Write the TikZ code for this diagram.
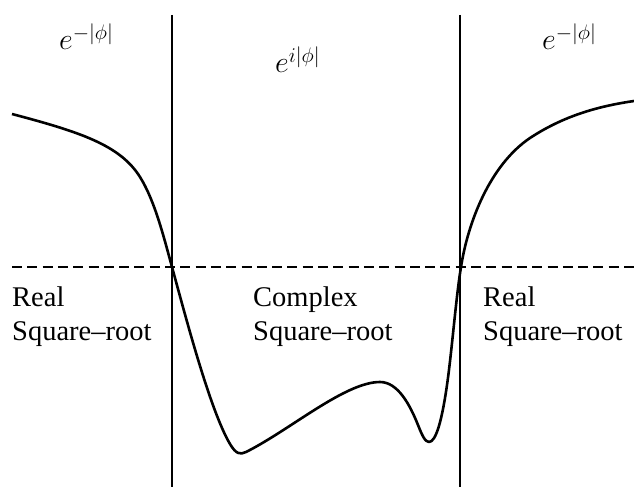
\RequirePackage{fix-cm}
\documentclass[tikz,border=0pt]{standalone}
\usepackage{fontspec}
\setmainfont{Liberation Serif}
\begin{document}
\begin{tikzpicture}[x=1pt,y=-1pt,
  region/.style={line width=2pt},
  axisline/.style={line width=2pt,dash pattern=on 10pt off 5.3pt},
  wave/.style={line width=2.6pt,line join=round},
  lbl/.style={anchor=base west,inner sep=0pt,align=left,font=\fontsize{28.5}{34}\selectfont},
  mlbl/.style={anchor=base west,inner sep=0pt,font=\fontsize{30}{34}\selectfont}]
\useasboundingbox (0,0) rectangle (634,487);
\coordinate (t1) at (172,15);
\coordinate (b1) at (172,487);
\coordinate (t2) at (460,15);
\coordinate (b2) at (460,487);
\coordinate (dl) at (12,267);
\coordinate (dr) at (634,267);
\draw[region] (t1) -- (b1);
\draw[region] (t2) -- (b2);
\draw[axisline] (dl) -- (dr);
\draw[wave] (12,114) .. controls (80,132) and (120,145) .. (140,177)
  .. controls (155,201) and (164,238) .. (172,267)
  .. controls (186,318) and (210,410) .. (230,444)
  .. controls (236,454) and (240,455) .. (246,452)
  .. controls (290,430) and (345,382) .. (380,382)
  .. controls (398,382) and (410,405) .. (418,425)
  .. controls (422,435) and (425,442) .. (429,442)
  .. controls (436,442) and (442,420) .. (447,385)
  .. controls (452,350) and (456,297) .. (461,267)
  .. controls (468,222) and (490,165) .. (530,138)
  .. controls (565,115) and (600,106) .. (634,101);
\node[mlbl] (m1) at (59,50) {$e^{-|\phi|}$};
\node[mlbl] (m2) at (275,73) {$e^{i|\phi|}$};
\node[mlbl] (m3) at (542,50) {$e^{-|\phi|}$};
\node[lbl] (l1) at (12,340) {Real\\Square\textendash root};
\node[lbl] (l2) at (253,340) {Complex\\Square\textendash root};
\node[lbl] (l3) at (483,340) {Real\\Square\textendash root};
\end{tikzpicture}
\end{document}
